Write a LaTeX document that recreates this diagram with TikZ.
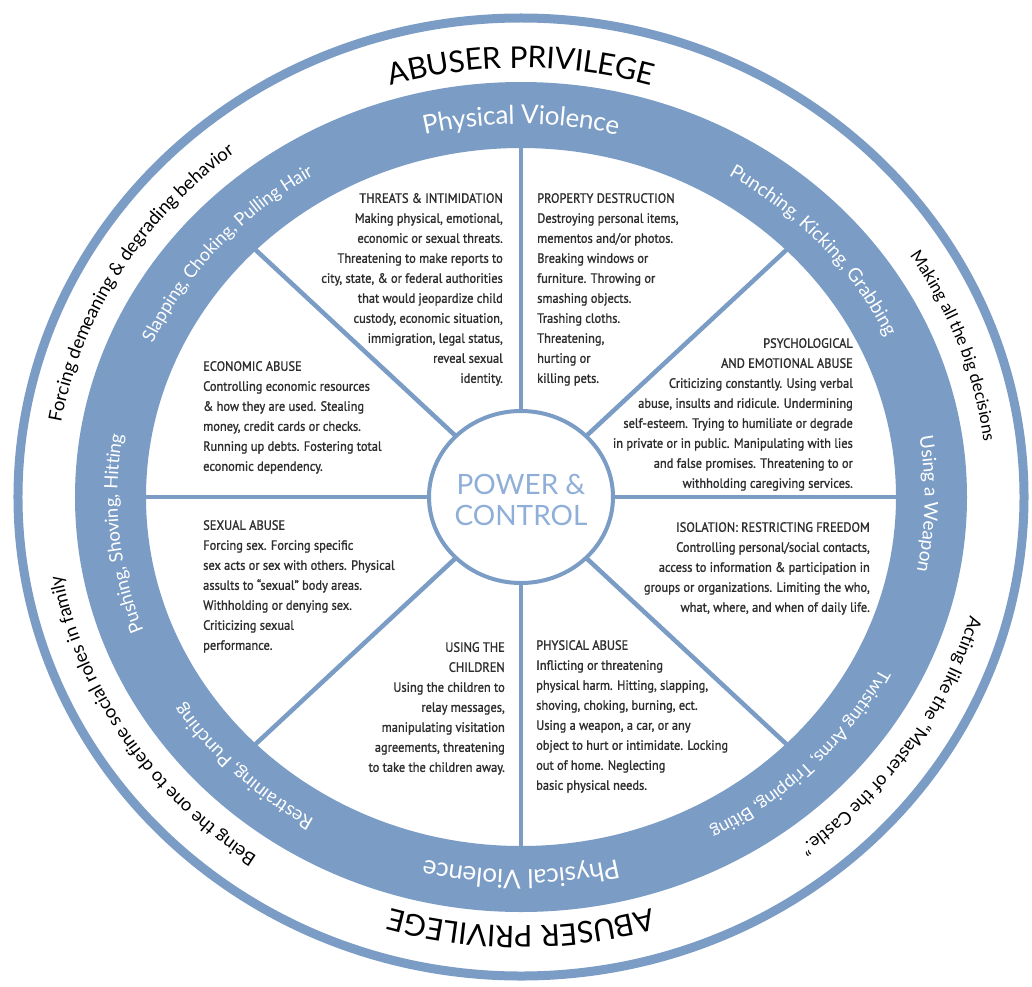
\documentclass[tikz,border=0pt]{standalone}
\usepackage{fontspec}
\setmainfont{Lato}
\newfontfamily\gill{Lato}
\newfontfamily\abfont[LetterSpace=4]{Lato}
\newfontfamily\cond[FakeStretch=0.92,FakeBold=1.2]{PT Sans}
\usetikzlibrary{decorations.text}
\definecolor{wblue}{HTML}{7A9CC5}
\definecolor{wtext}{HTML}{2E2E2E}
\definecolor{ctext}{HTML}{8FAFD8}
\newcommand\arctext[6]{%
  \path[decorate,decoration={text along path,text align=center,raise=#5,text={#6}}]
    ({(#1)*cos(#3+#4)},{(#2)*sin(#3+#4)}) arc[start angle={#3+#4},end angle={#3-#4},x radius=#1pt,y radius=#2pt];}
\tikzset{
  body/.style={font=\cond\fontsize{13.5}{20}\selectfont, text=wtext, inner sep=0pt},
  divider/.style={wblue, line width=4.5pt},
}
\begin{document}
\begin{tikzpicture}[x=1pt,y=1pt]
\useasboundingbox (-521,-489) rectangle (511,497);
\fill[white] (-521,-489) rectangle (511,497);
% outer ring
\draw[wblue, line width=9pt] (0,0) ellipse[x radius=503pt, y radius=479pt];
% blue band
\fill[wblue, even odd rule] (0,0) ellipse[x radius=446pt, y radius=415pt] (0,0) ellipse[x radius=375pt, y radius=349pt];
% dividers
\foreach \a in {0,45,...,315}
  \draw[divider] ({92*cos(\a)},{86*sin(\a)}) -- ({377*cos(\a)},{351*sin(\a)});
% centre
\draw[wblue, line width=4pt, fill=white] (0,0) ellipse[x radius=92pt, y radius=86pt];
\node[font=\gill\fontsize{28}{31}\selectfont, text=ctext, align=center] (pc) at (0,-3) {POWER \&\\CONTROL};
% band texts
\arctext{410.6}{382}{90}{40}{-9pt}{|\gill\fontsize{26}{26}\selectfont\color{white}|Physical Violence}
\arctext{410.6}{382}{41.5}{40}{-7pt}{|\gill\fontsize{19}{19}\selectfont\color{white}|Punching, Kicking, Grabbing}
\arctext{410.6}{382}{-1}{40}{-7pt}{|\gill\fontsize{19}{19}\selectfont\color{white}|Using a Weapon}
\arctext{410.6}{382}{-44}{40}{-7pt}{|\gill\fontsize{18}{18}\selectfont\color{white}|Twisting Arms, Tripping, Biting}
\arctext{410.6}{382}{-90}{40}{-9pt}{|\gill\fontsize{26}{26}\selectfont\color{white}|Physical Violence}
\arctext{410.6}{382}{225.5}{40}{-7pt}{|\gill\fontsize{19}{19}\selectfont\color{white}|Restraining, Punching}
\arctext{410.6}{382}{185.5}{40}{-7pt}{|\gill\fontsize{18.5}{18.5}\selectfont\color{white}|Pushing, Shoving, Hitting}
\arctext{410.6}{382}{139}{40}{-7pt}{|\gill\fontsize{18}{18}\selectfont\color{white}|Slapping, Choking, Pulling Hair}
% outer texts
\arctext{473}{440}{90}{40}{-11pt}{|\abfont\fontsize{30}{30}\selectfont\color{black}|ABUSER PRIVILEGE}
\arctext{473}{440}{-90}{40}{-11pt}{|\abfont\fontsize{30}{30}\selectfont\color{black}|ABUSER PRIVILEGE}
\arctext{473}{442}{20}{40}{-6.5pt}{|\gill\fontsize{17}{17}\selectfont\color{black}|Making all the big decisions}
\arctext{473}{442}{-34}{40}{-6.5pt}{|\gill\fontsize{18}{18}\selectfont\color{black}|Acting like the “Master of the Castle.”}
\arctext{473}{442}{212.5}{40}{-6.5pt}{|\gill\fontsize{18.4}{18.4}\selectfont\color{black}|Being the one to define social roles in family}
\arctext{473}{442}{149.5}{40}{-6.5pt}{|\gill\fontsize{18.5}{18.5}\selectfont\color{black}|Forcing demeaning {\&} degrading behavior}
% sector texts
\node[body, align=right, anchor=north east] (threats) at (-18,304) {THREATS \& INTIMIDATION\\Making physical, emotional,\\economic or sexual threats.\\Threatening to make reports to\\city, state, \& or federal authorities\\that would jeopardize child\\custody, economic situation,\\immigration, legal status,\\reveal sexual\\identity.};
\node[body, align=left, anchor=north west] (property) at (16,304) {PROPERTY DESTRUCTION\\Destroying personal items,\\mementos and/or photos.\\Breaking windows or\\furniture. Throwing or\\smashing objects.\\Trashing cloths.\\Threatening,\\hurting or\\killing pets.};
\node[body, align=right, anchor=north east] (psych) at (332,159) {PSYCHOLOGICAL\\AND EMOTIONAL ABUSE\\Criticizing constantly. Using verbal\\abuse, insults and ridicule. Undermining\\self-esteem. Trying to humiliate or degrade\\in private or in public. Manipulating with lies\\and false promises. Threatening to or\\withholding caregiving services.};
\node[body, align=left, anchor=north west] (economic) at (-318,136) {ECONOMIC ABUSE\\Controlling economic resources\\\& how they are used. Stealing\\money, credit cards or checks.\\Running up debts. Fostering total\\economic dependency.};
\node[body, align=right, anchor=north east] (isolation) at (349,-25) {ISOLATION: RESTRICTING FREEDOM\\Controlling personal/social contacts,\\access to information \& participation in\\groups or organizations. Limiting the who,\\what, where, and when of daily life.};
\node[body, align=left, anchor=north west] (sexual) at (-318,-23) {SEXUAL ABUSE\\Forcing sex. Forcing specific\\sex acts or sex with others. Physical\\assults to “sexual” body areas.\\Withholding or denying sex.\\Criticizing sexual\\performance.};
\node[body, align=right, anchor=north east] (children) at (-16,-145) {USING THE\\CHILDREN\\Using the children to\\relay messages,\\manipulating visitation\\agreements, threatening\\to take the children away.};
\node[body, align=left, anchor=north west] (physical) at (15,-143) {PHYSICAL ABUSE\\Inflicting or threatening\\physical harm. Hitting, slapping,\\shoving, choking, burning, ect.\\Using a weapon, a car, or any\\object to hurt or intimidate. Locking\\out of home. Neglecting\\basic physical needs.};
\end{tikzpicture}
\end{document}
